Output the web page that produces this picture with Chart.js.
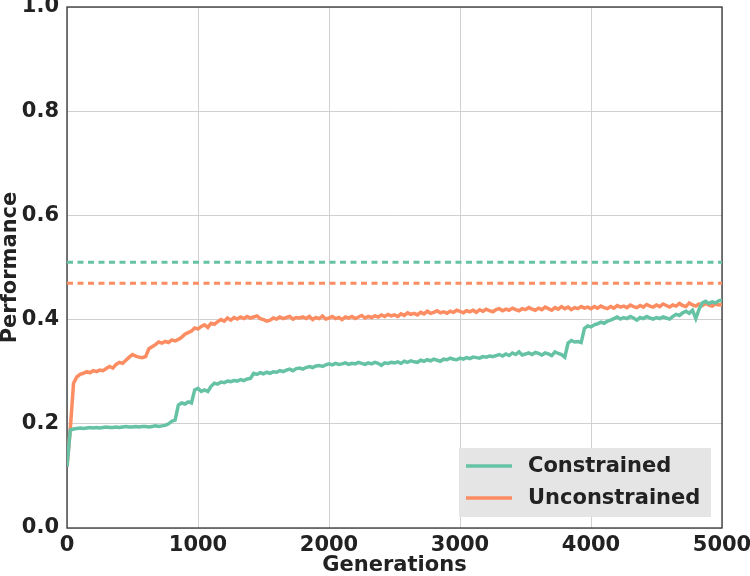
<!DOCTYPE html>
<html>
<head>
<meta charset="utf-8">
<script src="https://cdn.jsdelivr.net/npm/chart.js@4/dist/chart.umd.min.js"></script>
<style>
  html, body { margin: 0; padding: 0; background: #fff; }
  #wrap { width: 750px; height: 576px; }
</style>
</head>
<body>
<div id="wrap"><canvas id="perfChart" width="750" height="576"></canvas></div>
<script>
// generations sampled every 25 steps, 0..5000
const step = 25;
const xTicks = [0, 1000, 2000, 3000, 4000, 5000];
const yTicks = [0.0, 0.2, 0.4, 0.6, 0.8, 1.0];

const constrained = [
  0.118, 0.188, 0.190, 0.191, 0.192, 0.191, 0.192, 0.193, 0.192, 0.193, 0.192, 0.193, 0.194, 0.193, 0.193, 0.194, 0.193, 0.194, 0.195, 0.194,
  0.194, 0.195, 0.194, 0.195, 0.195, 0.194, 0.195, 0.196, 0.195, 0.196, 0.197, 0.200, 0.205, 0.207, 0.236, 0.240, 0.238, 0.242, 0.240, 0.265,
  0.268, 0.262, 0.265, 0.262, 0.272, 0.278, 0.276, 0.280, 0.279, 0.282, 0.281, 0.283, 0.282, 0.285, 0.283, 0.286, 0.287, 0.297, 0.295, 0.298,
  0.296, 0.299, 0.297, 0.300, 0.299, 0.302, 0.300, 0.303, 0.305, 0.302, 0.306, 0.307, 0.305, 0.308, 0.310, 0.308, 0.311, 0.312, 0.310, 0.313,
  0.315, 0.313, 0.316, 0.314, 0.315, 0.317, 0.314, 0.316, 0.315, 0.318, 0.316, 0.314, 0.317, 0.315, 0.318, 0.316, 0.312, 0.317, 0.316, 0.318,
  0.317, 0.319, 0.316, 0.320, 0.318, 0.321, 0.319, 0.318, 0.322, 0.320, 0.323, 0.321, 0.324, 0.322, 0.320, 0.324, 0.323, 0.326, 0.324, 0.323,
  0.326, 0.324, 0.327, 0.325, 0.328, 0.327, 0.326, 0.329, 0.328, 0.330, 0.329, 0.331, 0.333, 0.330, 0.334, 0.331, 0.336, 0.333, 0.338, 0.332,
  0.334, 0.336, 0.333, 0.337, 0.335, 0.332, 0.336, 0.334, 0.331, 0.338, 0.335, 0.333, 0.328, 0.355, 0.360, 0.357, 0.358, 0.356, 0.383, 0.388,
  0.386, 0.390, 0.392, 0.395, 0.393, 0.397, 0.399, 0.402, 0.405, 0.401, 0.404, 0.402, 0.406, 0.403, 0.399, 0.404, 0.402, 0.406, 0.403, 0.401,
  0.404, 0.402, 0.405, 0.403, 0.401, 0.406, 0.410, 0.408, 0.413, 0.416, 0.412, 0.418, 0.402, 0.420, 0.432, 0.435, 0.431, 0.434, 0.432, 0.436,
  0.438
];

const unconstrained = [
  0.118, 0.190, 0.278, 0.290, 0.295, 0.297, 0.300, 0.298, 0.302, 0.300, 0.303, 0.302, 0.306, 0.310, 0.307, 0.314, 0.318, 0.316, 0.322, 0.328,
  0.333, 0.330, 0.328, 0.327, 0.329, 0.344, 0.348, 0.352, 0.357, 0.355, 0.358, 0.356, 0.361, 0.359, 0.362, 0.366, 0.372, 0.375, 0.378, 0.384,
  0.382, 0.387, 0.390, 0.385, 0.393, 0.391, 0.396, 0.400, 0.397, 0.403, 0.399, 0.404, 0.401, 0.405, 0.402, 0.406, 0.403, 0.405, 0.407, 0.402,
  0.400, 0.397, 0.399, 0.403, 0.401, 0.405, 0.402, 0.404, 0.406, 0.401, 0.404, 0.403, 0.405, 0.402, 0.406, 0.400, 0.404, 0.402, 0.407, 0.401,
  0.403, 0.406, 0.402, 0.404, 0.400, 0.405, 0.403, 0.406, 0.402, 0.405, 0.408, 0.403, 0.406, 0.404, 0.407, 0.405, 0.409, 0.406, 0.410, 0.407,
  0.409, 0.406, 0.411, 0.408, 0.413, 0.410, 0.412, 0.409, 0.414, 0.411, 0.416, 0.412, 0.414, 0.417, 0.413, 0.415, 0.412, 0.416, 0.414, 0.418,
  0.416, 0.413, 0.417, 0.415, 0.418, 0.414, 0.419, 0.416, 0.420, 0.417, 0.415, 0.419, 0.421, 0.417, 0.420, 0.418, 0.422, 0.419, 0.417, 0.421,
  0.419, 0.423, 0.420, 0.418, 0.422, 0.419, 0.424, 0.421, 0.418, 0.423, 0.420, 0.425, 0.421, 0.424, 0.419, 0.423, 0.421, 0.425, 0.422, 0.424,
  0.421, 0.425, 0.422, 0.426, 0.423, 0.421, 0.425, 0.422, 0.427, 0.424, 0.426, 0.423, 0.428, 0.425, 0.423, 0.427, 0.424, 0.429, 0.426, 0.424,
  0.428, 0.425, 0.430, 0.427, 0.424, 0.428, 0.426, 0.431, 0.427, 0.425, 0.432, 0.428, 0.426, 0.430, 0.427, 0.431, 0.428, 0.426, 0.430, 0.428,
  0.429
];

// dotted reference levels
const baselineConstrained = 0.51;
const baselineUnconstrained = 0.47;

const green = '#66c2a5';
const orange = '#fc8d62';
const textColor = '#222222';
const fontFamily = '"DejaVu Sans", sans-serif';
const fontSize = 21;

function toPoints(values) {
    return values.map((v, i) => ({ x: i * step, y: v }));
}

function flatLine(level) {
    return [{ x: xTicks[0], y: level }, { x: xTicks[xTicks.length - 1], y: level }];
}

// box around the plot area
const framePlugin = {
    id: 'frame',
    beforeDatasetsDraw(chart) {
        const { ctx, chartArea } = chart;
        ctx.save();
        ctx.strokeStyle = '#333333';
        ctx.lineWidth = 1.3;
        ctx.strokeRect(chartArea.left, chartArea.top, chartArea.right - chartArea.left, chartArea.bottom - chartArea.top);
        ctx.restore();
    }
};

// legend inside the lower right corner, grey box
const boxLegend = {
    id: 'boxLegend',
    afterDraw(chart) {
        const { ctx, chartArea } = chart;
        const w = 252, h = 69;
        const left = chartArea.right - 11 - w;
        const top = chartArea.bottom - 11 - h;
        ctx.save();
        ctx.fillStyle = '#e5e5e5';
        ctx.fillRect(left, top, w, h);
        ctx.font = 'bold ' + fontSize + 'px ' + fontFamily;
        ctx.textBaseline = 'middle';
        chart.data.datasets.slice(0, 2).forEach((ds, i) => {
            const y = top + 18 + i * 32;
            ctx.strokeStyle = ds.borderColor;
            ctx.lineWidth = 3.5;
            ctx.beginPath();
            ctx.moveTo(left + 7, y);
            ctx.lineTo(left + 53, y);
            ctx.stroke();
            ctx.fillStyle = textColor;
            ctx.fillText(ds.label, left + 69, y + 1);
        });
        ctx.restore();
    }
};

const ctx = document.getElementById('perfChart').getContext('2d');
new Chart(ctx, {
    type: 'line',
    data: {
        datasets: [
            {
                label: 'Constrained',
                data: toPoints(constrained),
                borderColor: green,
                borderWidth: 3.5,
                pointRadius: 0,
                tension: 0
            },
            {
                label: 'Unconstrained',
                data: toPoints(unconstrained),
                borderColor: orange,
                borderWidth: 3.5,
                pointRadius: 0,
                tension: 0
            },
            {
                label: 'Constrained baseline',
                data: flatLine(baselineConstrained),
                borderColor: green,
                borderWidth: 3,
                borderDash: [6, 4.5],
                pointRadius: 0
            },
            {
                label: 'Unconstrained baseline',
                data: flatLine(baselineUnconstrained),
                borderColor: orange,
                borderWidth: 3,
                borderDash: [6, 4.5],
                pointRadius: 0
            }
        ]
    },
    options: {
        responsive: false,
        animation: false,
        layout: {
            padding: { top: 7, right: 28, left: 0, bottom: 0 }
        },
        plugins: {
            legend: { display: false },
            tooltip: { enabled: false }
        },
        scales: {
            x: {
                type: 'linear',
                min: 0,
                max: 5000,
                afterBuildTicks: scale => { scale.ticks = xTicks.map(v => ({ value: v })); },
                afterFit: scale => {
                    scale.height = 48;
                    scale.paddingLeft = 0;
                    scale.paddingRight = 0;
                },
                grid: { color: '#d0d0d0', lineWidth: 1, drawTicks: false },
                border: { display: false },
                ticks: {
                    padding: 5,
                    color: textColor,
                    font: { family: fontFamily, size: fontSize, weight: 'bold' },
                    maxRotation: 0,
                    callback: v => String(v)
                },
                title: {
                    display: true,
                    text: 'Generations',
                    color: textColor,
                    padding: { top: 0, bottom: 0 },
                    font: { family: fontFamily, size: fontSize, weight: 'bold', lineHeight: 1.0 }
                }
            },
            y: {
                min: 0,
                max: 1,
                afterBuildTicks: scale => { scale.ticks = yTicks.map(v => ({ value: v })); },
                afterFit: scale => {
                    scale.width = 67;
                    scale.paddingTop = 0;
                    scale.paddingBottom = 0;
                },
                grid: { color: '#d0d0d0', lineWidth: 1, drawTicks: false },
                border: { display: false },
                ticks: {
                    padding: 8,
                    color: textColor,
                    font: { family: fontFamily, size: fontSize, weight: 'bold' },
                    callback: v => v.toFixed(1)
                },
                title: {
                    display: true,
                    text: 'Performance',
                    color: textColor,
                    padding: { top: 0, bottom: 0 },
                    font: { family: fontFamily, size: fontSize, weight: 'bold', lineHeight: 1.0 }
                }
            }
        }
    },
    plugins: [framePlugin, boxLegend]
});
</script>
</body>
</html>
